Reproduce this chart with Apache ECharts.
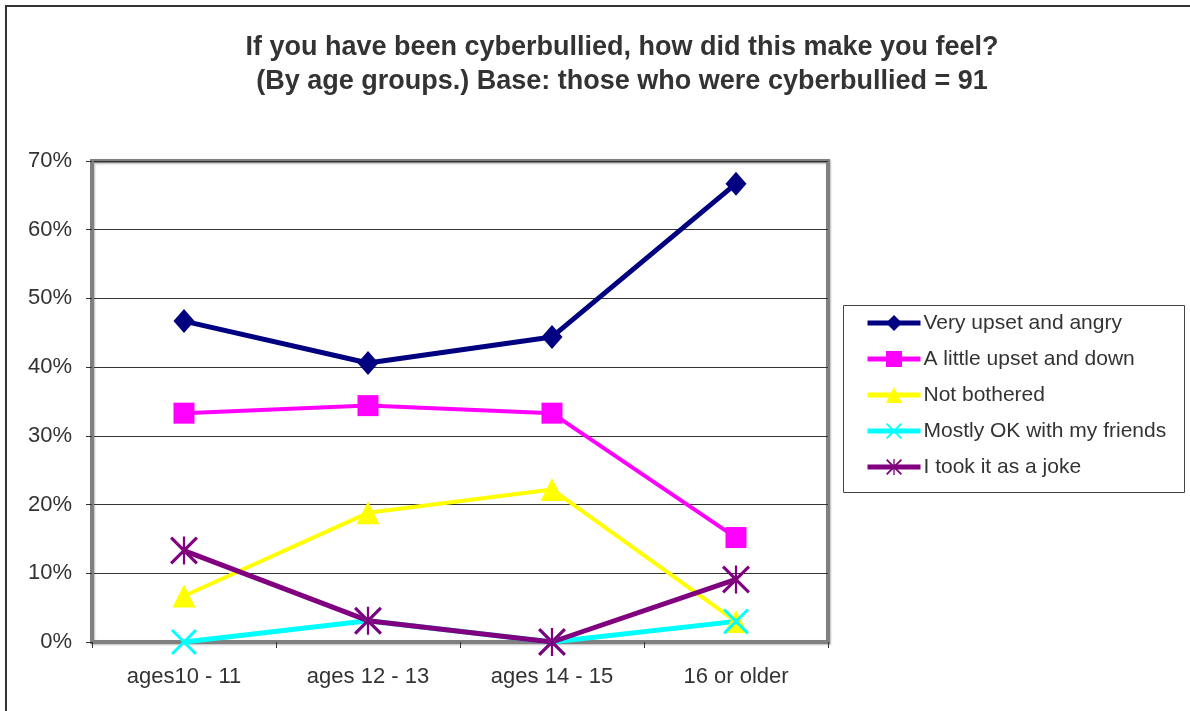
<!DOCTYPE html>
<html>
<head>
<meta charset="utf-8">
<script src="https://cdn.jsdelivr.net/npm/echarts@6/dist/echarts.min.js"></script>
<style>
  html, body { margin: 0; padding: 0; background: #fff; }
  #chart { width: 1190px; height: 711px; }
</style>
</head>
<body>
<div id="chart"></div>
<script>
// Age groups on the x axis
const ageGroups = ['ages10 - 11', 'ages 12 - 13', 'ages 14 - 15', '16 or older'];

// Share of respondents per answer (percent)
const veryUpset   = [46.7, 40.6, 44.4, 66.7];
const littleUpset = [33.3, 34.4, 33.3, 15.2];
const notBothered = [6.7, 18.8, 22.2, 3.0];
const mostlyOK    = [0, 3.1, 0, 3.0];
const tookAsJoke  = [13.3, 3.1, 0, 9.1];

const seriesNames = [
  'Very upset and angry',
  'A little upset and down',
  'Not bothered',
  'Mostly OK with my friends',
  'I took it as a joke'
];

// Y axis: 0% to 70% in steps of 10
const yMin = 0, yMax = 70, yStep = 10;

// Thin-line marker shapes (filled bars in a 100x100 box)
const t = 8;
const xCrossPath = 'path://' +
  `M0,${t} L${t},0 L100,${100 - t} L${100 - t},100 Z ` +
  `M${100 - t},0 L100,${t} L${t},100 L0,${100 - t} Z`;
const starPath = 'path://' +
  `M0,${t} L${t},0 L100,${100 - t} L${100 - t},100 Z ` +
  `M${100 - t},0 L100,${t} L${t},100 L0,${100 - t} Z ` +
  `M${50 - t / 2},0 L${50 + t / 2},0 L${50 + t / 2},100 L${50 - t / 2},100 Z`;

const FONT = '"Liberation Sans", Arial, sans-serif';
const TEXT = '#333333';

function lineSeries(name, data, color, width, symbol, size) {
  return {
    name: name,
    type: 'line',
    data: data,
    symbol: symbol,
    symbolSize: size,
    showAllSymbol: true,
    lineStyle: { color: color, width: width },
    itemStyle: { color: color, borderWidth: 0 },
    emphasis: { disabled: true },
    animation: false
  };
}

const chart = echarts.init(document.getElementById('chart'), null, { renderer: 'canvas' });

chart.setOption({
  backgroundColor: '#ffffff',
  animation: false,
  title: {
    text: 'If you have been cyberbullied, how did this make you feel?\n(By age groups.) Base: those who were cyberbullied = 91',
    left: 617,
    top: 26,
    textAlign: 'center',
    textStyle: {
      fontFamily: FONT,
      fontSize: 27,
      fontWeight: 'bold',
      color: TEXT,
      lineHeight: 34
    }
  },
  graphic: [
    {
      type: 'rect',
      silent: true,
      shape: { x: 6, y: 6, width: 1210, height: 730 },
      style: { fill: 'none', stroke: '#333333', lineWidth: 2 }
    },
    {
      type: 'rect',
      silent: true,
      shape: { x: 843.5, y: 305.5, width: 341, height: 187 },
      style: { fill: '#ffffff', stroke: '#444444', lineWidth: 1 },
      z: 0
    }
  ],
  legend: {
    orient: 'vertical',
    left: 865,
    top: 312,
    padding: [0, 0, 0, 0],
    itemWidth: 53,
    itemHeight: 20,
    itemGap: 14,
    data: seriesNames,
    lineStyle: { width: 5 },
    textStyle: {
      fontFamily: FONT,
      fontSize: 21,
      color: TEXT,
      lineHeight: 22,
      padding: [0, 0, 0, -2]
    },
    z: 5
  },
  grid: {
    left: 92,
    top: 161,
    right: 362,
    bottom: 69,
    show: true,
    backgroundColor: '#ffffff',
    borderColor: '#808080',
    borderWidth: 4,
    shadowColor: 'rgba(0,0,0,0.25)',
    shadowBlur: 2,
    shadowOffsetX: 1,
    shadowOffsetY: 1
  },
  xAxis: {
    type: 'category',
    data: ageGroups,
    boundaryGap: true,
    axisLine: { show: true, lineStyle: { color: '#808080', width: 4 } },
    axisTick: { show: true, length: 6, lineStyle: { color: '#333333', width: 1 } },
    axisLabel: {
      margin: 24,
      fontFamily: FONT,
      fontSize: 22,
      color: TEXT
    },
    splitLine: { show: false }
  },
  yAxis: {
    type: 'value',
    min: yMin,
    max: yMax,
    interval: yStep,
    axisLine: { show: true, lineStyle: { color: '#808080', width: 4 } },
    axisTick: { show: true, length: 6, lineStyle: { color: '#333333', width: 1 } },
    axisLabel: {
      margin: 20,
      formatter: '{value}%',
      fontFamily: FONT,
      fontSize: 22,
      color: TEXT
    },
    splitLine: { show: true, lineStyle: { color: '#333333', width: 1 } }
  },
  series: [
    lineSeries(seriesNames[0], veryUpset, '#000080', 5, 'diamond', [21, 24]),
    lineSeries(seriesNames[1], littleUpset, '#FF00FF', 4, 'rect', 21),
    lineSeries(seriesNames[2], notBothered, '#FFFF00', 4, 'triangle', 23),
    lineSeries(seriesNames[3], mostlyOK, '#00FFFF', 5, xCrossPath, 26),
    lineSeries(seriesNames[4], tookAsJoke, '#800080', 5, starPath, 28)
  ]
});
</script>
</body>
</html>
